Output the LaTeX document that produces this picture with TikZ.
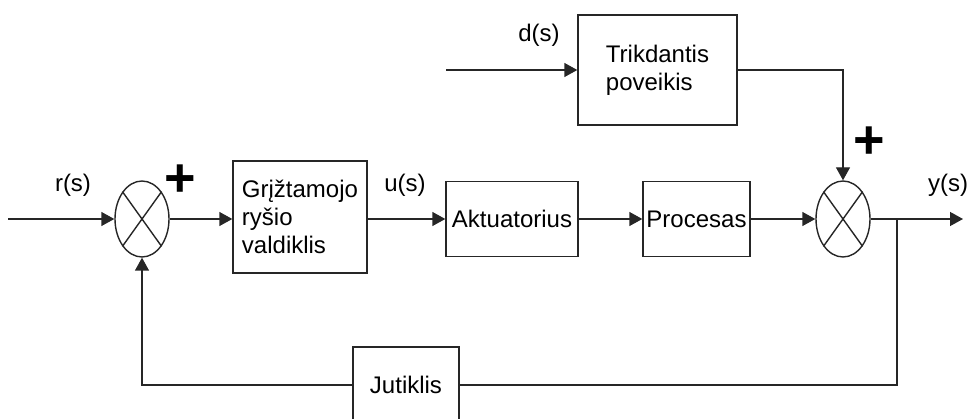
\documentclass[tikz,border=0pt]{standalone}
\usepackage{fontspec}
\setmainfont{Liberation Sans}
\usetikzlibrary{arrows.meta,shapes.geometric}
\tikzset{
  ln/.style={draw=black!85, line width=1.4pt},
  arr/.style={ln, -{Triangle[length=13pt,width=14pt]}},
  blk/.style={ln, rectangle, inner sep=0pt, font=\fontsize{24}{28}\selectfont, align=left},
  summer/.style={ln, ellipse, minimum width=54pt, minimum height=76pt, inner sep=0pt},
  lbl/.style={font=\fontsize{24}{28}\selectfont, inner sep=0pt},
  plus/.style={font=\fontsize{54}{54}\selectfont\bfseries, inner sep=0pt}
}
\begin{document}
\begin{tikzpicture}[x=1pt,y=-1pt]
\useasboundingbox (0,0) rectangle (969,419);
% nodes
\node[summer] (s1) at (142,219) {};
\node[summer] (s2) at (843,219) {};
\foreach \s in {s1,s2}{
  \draw[ln] (\s.north east) -- (\s.south west);
  \draw[ln] (\s.north west) -- (\s.south east);
}
\node[blk, minimum width=134pt, minimum height=112pt] (ctrl) at (300,217) {Grįžtamojo\\ryšio\\valdiklis};
\node[blk, minimum width=132pt, minimum height=75pt] (act) at (512,219) {Aktuatorius};
\node[blk, minimum width=107pt, minimum height=75pt] (proc) at (696.5,219) {Procesas};
\node[blk, minimum width=159pt, minimum height=110pt] (trik) at (657.5,70) {Trikdantis\\poveikis};
\node[blk, minimum width=106pt, minimum height=76pt] (jut) at (406,385) {Jutiklis};
% free ends
\coordinate (rin) at (8,219);
\coordinate (yout) at (963,219);
\coordinate (din) at (446,70);
\coordinate (br) at (897,219);
% connectors
\draw[arr] (rin) -- (s1.west);
\draw[arr] (s1.east) -- (ctrl.west |- s1.east);
\draw[arr] (ctrl.east |- act.west) -- (act.west);
\draw[arr] (act.east) -- (proc.west);
\draw[arr] (proc.east) -- (s2.west);
\draw[arr] (s2.east) -- (yout);
\draw[arr] (din) -- (trik.west);
\draw[arr] (trik.east) -| (s2.north);
\draw[ln] (br) |- (jut.east);
\draw[arr] (jut.west) -| (s1.south);
% labels
\node[lbl] (lr) at (73,185) {r(s)};
\node[lbl] (lu) at (405,185) {u(s)};
\node[lbl] (ly) at (948,185) {y(s)};
\node[lbl] (ld) at (539,35) {d(s)};
\node[plus] (p1) at (180,181) {+};
\node[plus] (p2) at (869,143) {+};
\end{tikzpicture}
\end{document}
